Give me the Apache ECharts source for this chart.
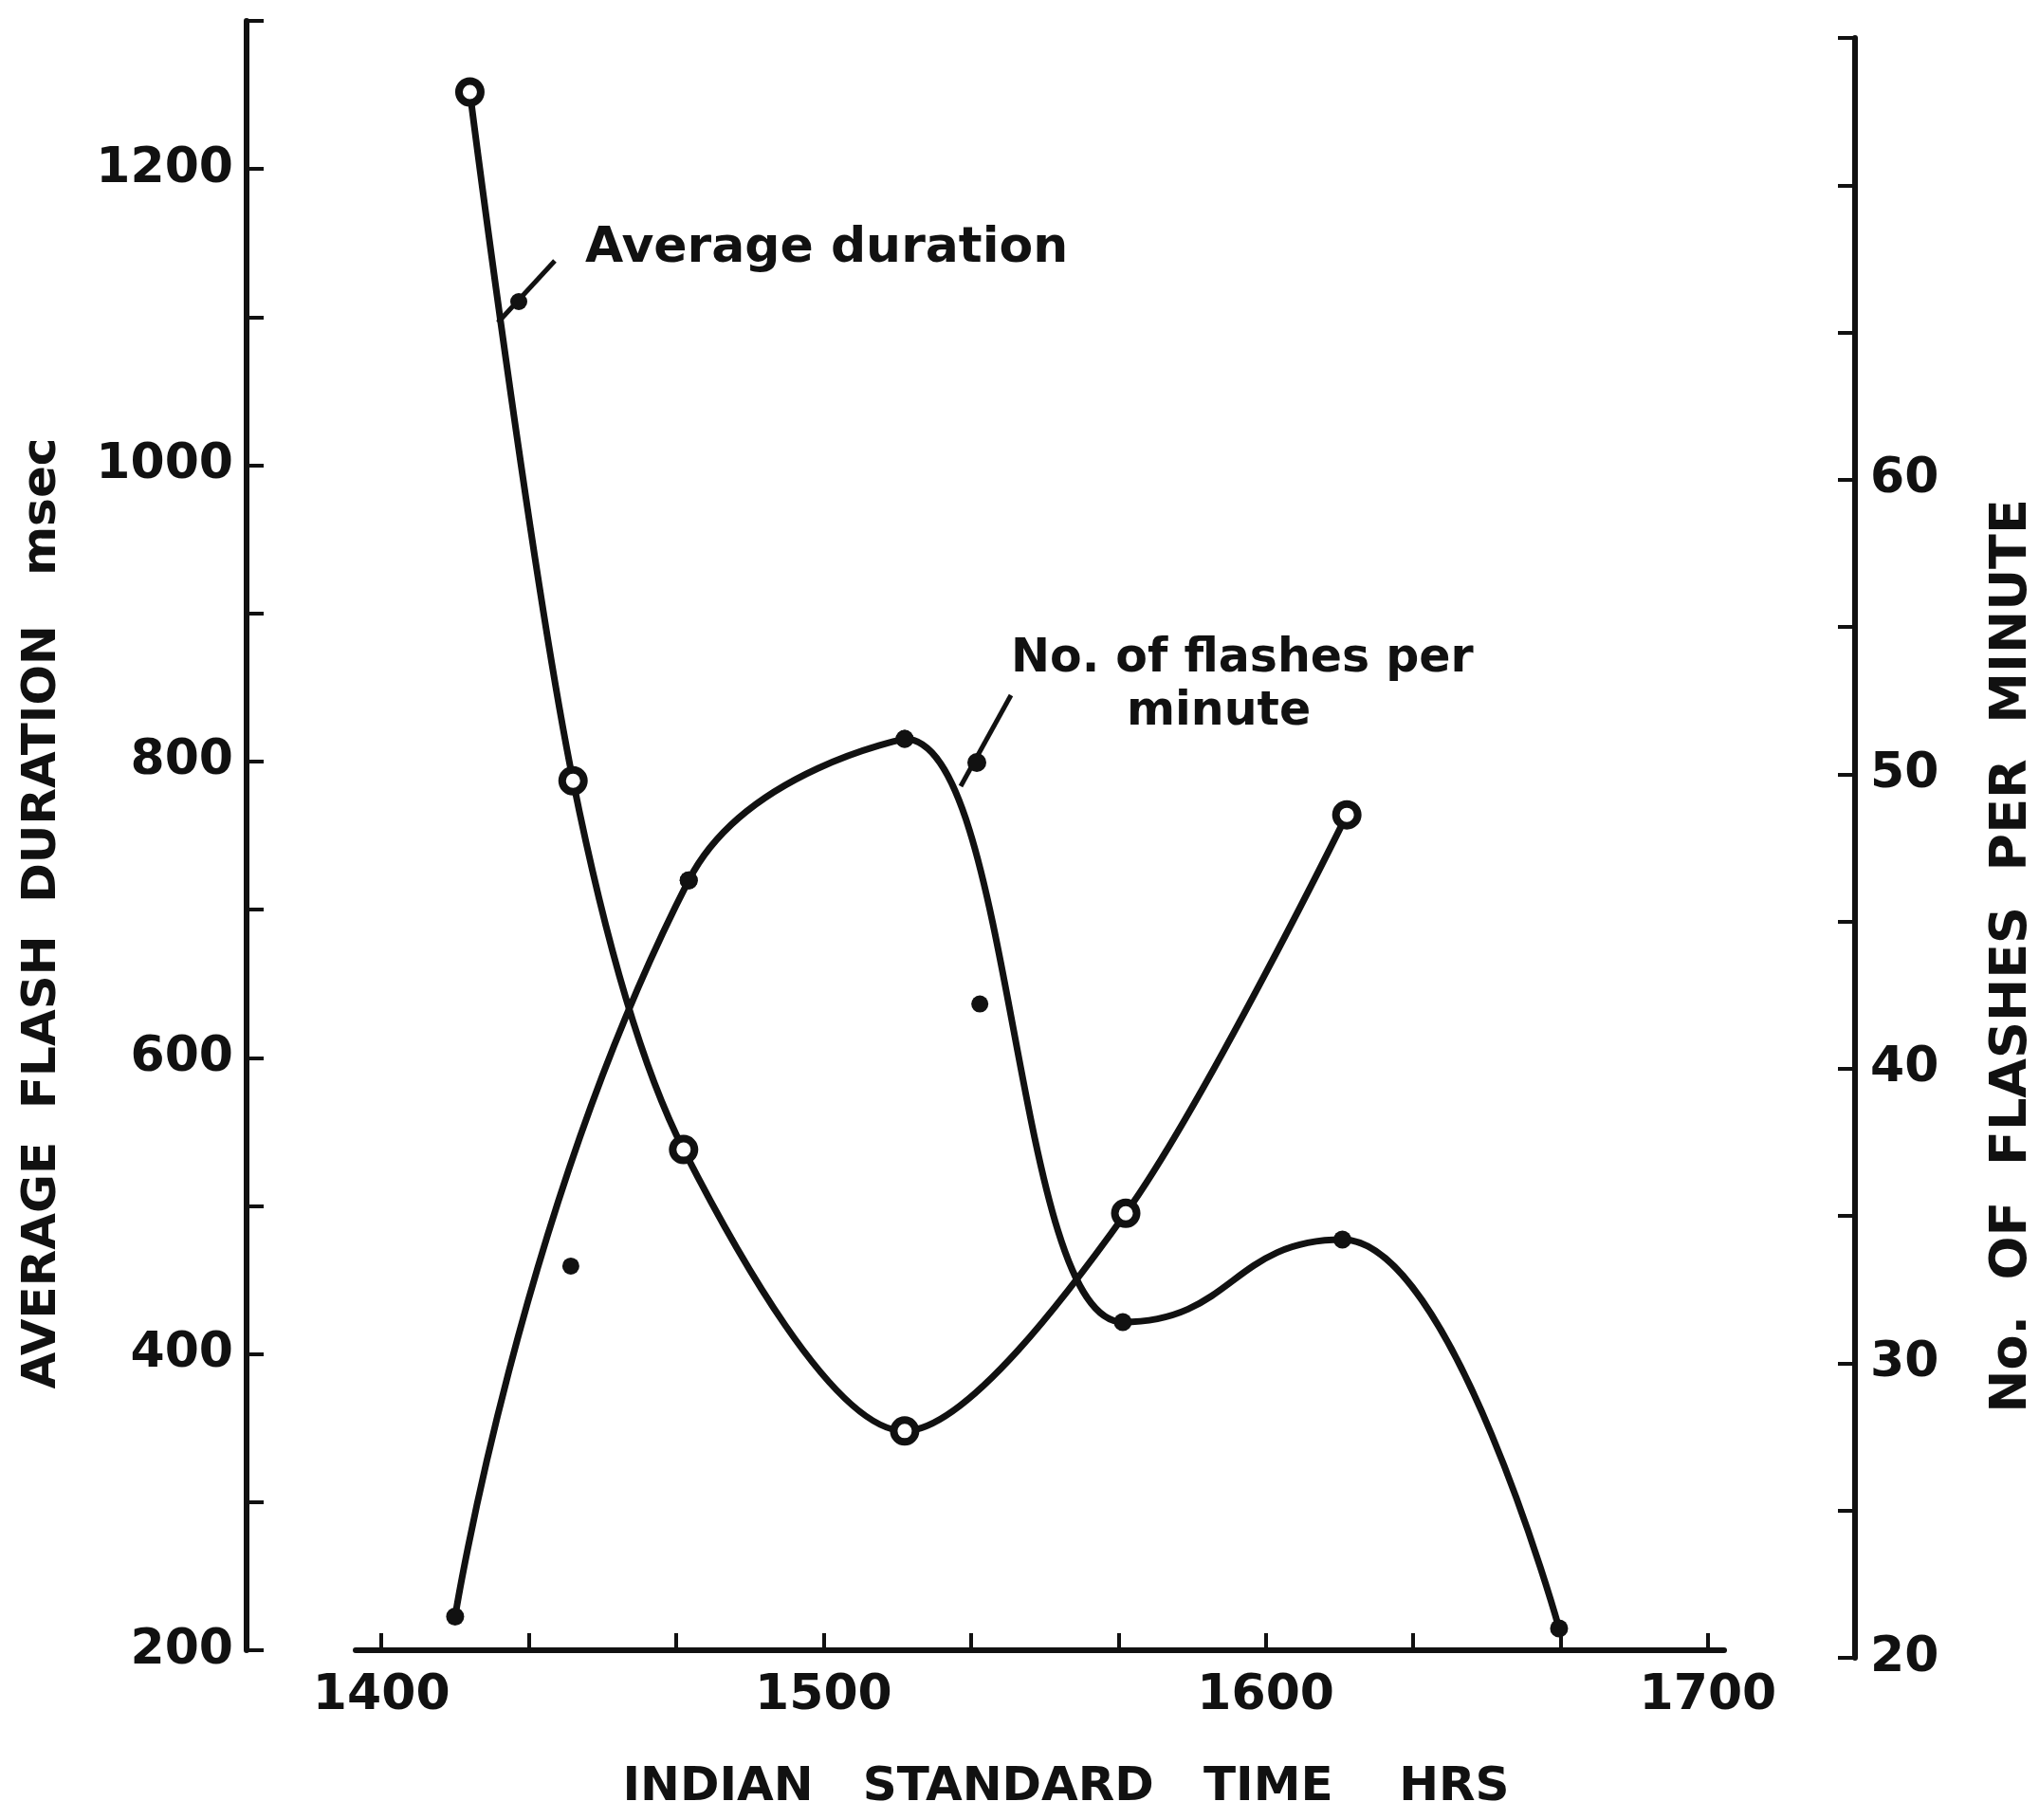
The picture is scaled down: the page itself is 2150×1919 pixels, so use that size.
<!DOCTYPE html>
<html>
<head>
<meta charset="utf-8">
<script src="https://cdn.jsdelivr.net/npm/echarts@6/dist/echarts.min.js"></script>
<style>
html,body{margin:0;padding:0;background:#fff;}
#chart{width:2150px;height:1919px;}
</style>
</head>
<body>
<div id="chart"></div>
<script>
// Time is given in minutes after 1400 hrs IST
const durationTimes = [12, 26, 41, 71, 101, 131];
const durationValues = [1252, 787, 538, 348, 495, 764];          // msec
const flashTimes = [10, 41.7, 71, 100.6, 130.4, 159.8];
const flashValues = [21.4, 46.4, 51.2, 31.4, 34.2, 21.0];         // flashes per minute
const flashExtraTimes = [25.7, 81.2];
const flashExtraValues = [33.3, 42.2];
const xTickMinutes = [0, 20, 40, 60, 80, 100, 120, 140, 160, 180];
const xLabelMinutes = [0, 60, 120, 180];
const xLabelTexts = ['1400', '1500', '1600', '1700'];

const INK = '#111';
const CLEAR = 'rgba(17,17,17,0)';
const FONT = 'DejaVu Sans';

function zip(xs, ys) { return xs.map((x, i) => [x, ys[i]]); }
const flashData = zip(flashTimes, flashValues);
const peakIndex = 2;   // flash-rate maximum

const chart = echarts.init(document.getElementById('chart'), null, {renderer: 'canvas'});

const gridLeft = 375, gridRightEdge = 1818;
const flashLineStyle = {
  type: 'line', xAxisIndex: 1, yAxisIndex: 1,
  symbol: 'circle', symbolSize: 19,
  itemStyle: {color: INK},
  lineStyle: {color: INK, width: 7},
  z: 2
};
const option = {
  animation: false,
  backgroundColor: '#fff',
  grid: [
    {left: gridLeft, top: 22, width: gridRightEdge - gridLeft, height: 1718},
    {left: gridLeft, top: 40, width: gridRightEdge - gridLeft, height: 1708}
  ],
  xAxis: [
    {
      gridIndex: 0, type: 'value', min: -3.5, max: 182.2, position: 'bottom',
      axisLine: {onZero: false, lineStyle: {color: INK, width: 6}},
      axisTick: {inside: true, length: 18, lineStyle: {color: INK, width: 4}, customValues: xTickMinutes},
      axisLabel: {
        customValues: xLabelMinutes, margin: 22,
        formatter: v => xLabelTexts[xLabelMinutes.indexOf(v)] || '',
        color: INK, fontFamily: FONT, fontWeight: 'bold', fontSize: 52
      },
      splitLine: {show: false}
    },
    {gridIndex: 1, type: 'value', min: -3.5, max: 182.2, show: false}
  ],
  yAxis: [
    {
      gridIndex: 0, type: 'value', min: 200, max: 1300, interval: 100,
      position: 'left', offset: gridLeft - 260,
      axisLine: {show: true, onZero: false, lineStyle: {color: INK, width: 6}},
      axisTick: {show: true, inside: true, length: 18, lineStyle: {color: INK, width: 4}},
      axisLabel: {
        margin: 14,
        formatter: v => (v % 200 === 0 && v <= 1200) ? String(v) : '',
        color: INK, fontFamily: FONT, fontWeight: 'bold', fontSize: 52
      },
      splitLine: {show: false}
    },
    {
      gridIndex: 1, type: 'value', min: 20, max: 75, interval: 5,
      position: 'right', offset: 1956 - gridRightEdge,
      axisLine: {show: true, onZero: false, lineStyle: {color: INK, width: 6}},
      axisTick: {show: true, inside: true, length: 18, lineStyle: {color: INK, width: 4}},
      axisLabel: {
        margin: 16,
        formatter: v => (v % 10 === 0 && v <= 60) ? String(v) : '',
        color: INK, fontFamily: FONT, fontWeight: 'bold', fontSize: 52
      },
      splitLine: {show: false}
    }
  ],
  series: [
    Object.assign({}, flashLineStyle, {
      name: 'No. of flashes per minute',
      data: flashData.slice(0, peakIndex + 1),
      smooth: 0.5
    }),
    Object.assign({}, flashLineStyle, {
      name: 'No. of flashes per minute (after peak)',
      data: flashData.slice(peakIndex - 1),
      smooth: 0.5, smoothMonotone: 'x'
    }),
    {
      name: 'flash extra points', type: 'scatter',
      xAxisIndex: 1, yAxisIndex: 1,
      data: zip(flashExtraTimes, flashExtraValues),
      symbol: 'circle', symbolSize: 18,
      itemStyle: {color: INK, opacity: 1},
      z: 2
    },
    {
      name: 'Average duration', type: 'line',
      xAxisIndex: 0, yAxisIndex: 0,
      data: zip(durationTimes, durationValues),
      smooth: 0.3,
      symbol: 'circle', symbolSize: 23,
      itemStyle: {color: '#fff', borderColor: INK, borderWidth: 8},
      lineStyle: {color: INK, width: 7},
      z: 3
    }
  ],
  graphic: [
    // axis titles
    {type: 'text', x: 45, y: 963, rotation: Math.PI / 2,
     style: {text: 'AVERAGE  FLASH  DURATION   msec', fill: INK, font: 'bold 50px "DejaVu Sans"', textAlign: 'center', textVerticalAlign: 'middle'}},
    {type: 'text', x: 2122, y: 1008, rotation: Math.PI / 2,
     style: {text: 'No.  OF  FLASHES  PER  MINUTE', fill: INK, font: 'bold 54px "DejaVu Sans"', textAlign: 'center', textVerticalAlign: 'middle'}},
    {type: 'text', x: 1124, y: 1885,
     style: {text: 'INDIAN   STANDARD   TIME    HRS', fill: INK, font: 'bold 50px "DejaVu Sans"', textAlign: 'center', textVerticalAlign: 'middle'}},
    // annotations
    {type: 'text', x: 617, y: 262,
     style: {text: 'Average duration', fill: INK, font: 'bold 52px "DejaVu Sans"', textAlign: 'left', textVerticalAlign: 'middle'}},
    {type: 'line', shape: {x1: 585, y1: 275, x2: 525, y2: 340}, style: {stroke: INK, lineWidth: 5}},
    {type: 'circle', shape: {cx: 547, cy: 318, r: 9}, style: {fill: INK}},
    {type: 'text', x: 1066, y: 695,
     style: {text: 'No. of flashes per', fill: INK, font: 'bold 49px "DejaVu Sans"', textAlign: 'left', textVerticalAlign: 'middle'}},
    {type: 'text', x: 1188, y: 751,
     style: {text: 'minute', fill: INK, font: 'bold 49px "DejaVu Sans"', textAlign: 'left', textVerticalAlign: 'middle'}},
    {type: 'line', shape: {x1: 1066, y1: 733, x2: 1013, y2: 829}, style: {stroke: INK, lineWidth: 5}},
    {type: 'circle', shape: {cx: 1030, cy: 804, r: 10}, style: {fill: INK}}
  ]
};
chart.setOption(option);

// The falling branch starts at the peak: hide its lead-in segment (drawn by the first branch)
const cutX = chart.convertToPixel({xAxisIndex: 1}, flashTimes[peakIndex]);
const W = chart.getWidth();
const f = Math.min(1, Math.max(0, cutX / W));
chart.setOption({
  series: [{}, {
    lineStyle: {
      color: {
        type: 'linear', x: 0, y: 0, x2: W, y2: 0, global: true,
        colorStops: [
          {offset: 0, color: CLEAR},
          {offset: f, color: CLEAR},
          {offset: f, color: INK},
          {offset: 1, color: INK}
        ]
      }
    }
  }]
});
</script>
</body>
</html>
